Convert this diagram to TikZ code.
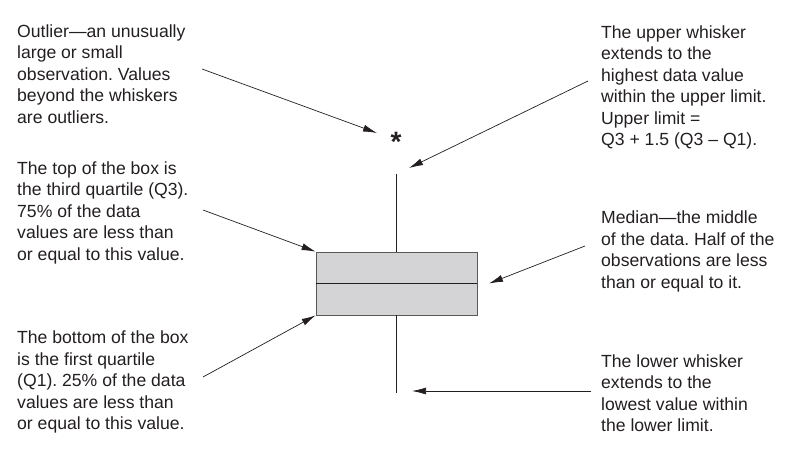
\documentclass[tikz,border=0pt]{standalone}
\usepackage{fontspec}
\setmainfont{Liberation Sans}
\usepackage{tikz}
\usetikzlibrary{arrows.meta}
\usetikzlibrary{calc}
\usetikzlibrary{positioning}
\definecolor{boxgray}{RGB}{212,212,214}
\definecolor{ink}{RGB}{35,31,32}
\frenchspacing
\begin{document}
\begin{tikzpicture}[x=1pt,y=-1pt,
		note/.style={anchor=base west,align=left,inner sep=0pt,text=ink,font=\fontsize{17.6}{21.5}\selectfont},
		callout/.style={draw=ink,line width=0.7pt,-{Latex[length=14pt,width=7pt]}}]
		\useasboundingbox (0,0) rectangle (808,450);
		% box plot
		\node[draw=ink!75,line width=0.8pt,fill=boxgray,minimum width=161pt,minimum height=63pt,inner sep=0pt] (box) at (396.5,283.5) {};
		\draw[ink,line width=0.8pt] (box.west) -- (box.east);
		\coordinate (uwhisker) at (396.5,174);
		\coordinate (lwhisker) at (396.5,393);
		\draw[ink,line width=0.8pt] (box.north) -- (uwhisker);
		\draw[ink,line width=0.8pt] (box.south) -- (lwhisker);
		\node[text=ink,inner sep=0pt,font=\fontsize{28}{28}\bfseries\selectfont] (star) at (396,142) {*};
		% texts (anchored at the baseline of their last line)
		\node[note] (outliertxt) at (17,123) {Outlier—an unusually\\large or small\\observation. Values\\beyond the whiskers\\are outliers.};
		\node[note] (q3txt) at (17,260) {The top of the box is\\the third quartile (Q3).\\75\% of the data\\values are less than\\or equal to this value.};
		\node[note] (q1txt) at (17,429.5) {The bottom of the box\\is the first quartile\\(Q1). 25\% of the data\\values are less than\\or equal to this value.};
		\node[note] (uppertxt) at (601,145.5) {The upper whisker\\extends to the\\highest data value\\within the upper limit.\\Upper limit =\\Q3 + 1.5 (Q3 – Q1).};
		\node[note] (mediantxt) at (601,288) {Median—the middle\\of the data. Half of the\\observations are less\\than or equal to it.};
		\node[note] (lowertxt) at (601,431.5) {The lower whisker\\extends to the\\lowest value within\\the lower limit.};
		% arrows
		\coordinate (outliertail) at (202,69);
		\coordinate (outlierhead) at (377,133);
		\coordinate (q3tail) at (203,210);
		\coordinate (q1tail) at (203,377);
		\coordinate (uppertail) at (588,81);
		\coordinate (upperhead) at (409,168);
		\coordinate (mediantail) at (585,246);
		\coordinate (medianhead) at (489,283.5);
		\coordinate (lowertail) at (591,391);
		\coordinate (lowerhead) at (412,391);
		\draw[callout] (outliertail) -- (outlierhead);
		\draw[callout] (q3tail) -- (box.north west);
		\draw[callout] (q1tail) -- (box.south west);
		\draw[callout] (uppertail) -- (upperhead);
		\draw[callout] (mediantail) -- (medianhead);
		\draw[callout] (lowertail) -- (lowerhead);
	\end{tikzpicture}
\end{document}
